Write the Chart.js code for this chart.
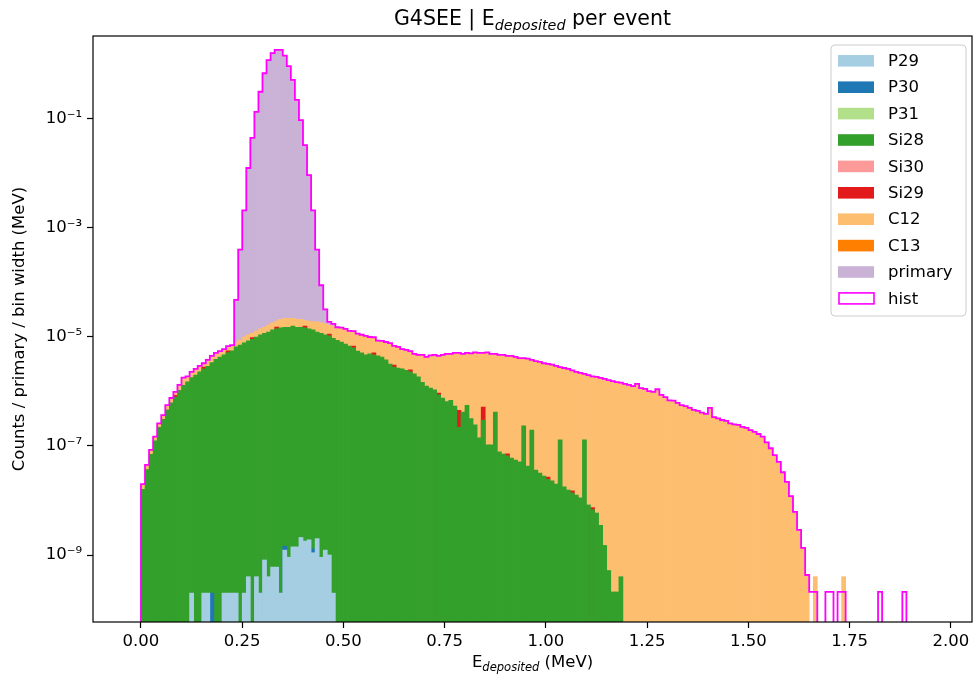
<!DOCTYPE html>
<html lang="en">
<head>
<meta charset="UTF-8" />
<title>G4SEE | E deposited per event</title>
<script src="https://cdn.jsdelivr.net/npm/chart.js"></script>
<style>
  html, body { margin: 0; padding: 0; background: #fff; }
  #wrap { width: 976px; height: 682px; }
</style>
</head>
<body>
<div id="wrap"><canvas id="chart" width="976" height="682"></canvas></div>
<script>
// histogram binning (MeV)
const binWidth = 0.01;
const xMin = -0.1185, xMax = 2.052;
const yMin = 5.9e-11, yMax = 3.33;

const xTickValues = [0, 0.25, 0.5, 0.75, 1.0, 1.25, 1.5, 1.75, 2.0];
const xTickLabels = ['0.00', '0.25', '0.50', '0.75', '1.00', '1.25', '1.50', '1.75', '2.00'];
const yTickValues = [1e-9, 1e-7, 1e-5, 1e-3, 1e-1];
const yTickLabels = ['10⁻⁹', '10⁻⁷', '10⁻⁵', '10⁻³', '10⁻¹'];

const seriesNames = ['P29', 'P30', 'P31', 'Si28', 'Si30', 'Si29', 'C12', 'C13', 'primary', 'hist'];
const seriesColors = ['#a6cee3', '#1f78b4', '#b2df8a', '#33a02c', '#fb9a99', '#e31a1c', '#fdbf6f', '#ff7f00', '#cab2d6', '#ff00ff'];

// total per bin (the magenta "hist" outline), bins 0.00 .. 1.90
const histTotal = [
  2.0e-8, 4.5e-8, 8.5e-8, 1.48e-7, 2.6e-7, 3.7e-7, 5.6e-7, 7.6e-7, 9.8e-7, 1.32e-6,
  1.8e-6, 1.9e-6, 2.3e-6, 2.6e-6, 2.95e-6, 3.3e-6, 3.8e-6, 4.5e-6, 5.1e-6, 5.5e-6,
  6.0e-6, 6.8e-6, 7.1e-6, 4.8e-5, 4.0e-4, 2.1e-3, 1.26e-2, 4.5e-2, 0.135, 0.316,
  0.69, 1.2, 1.62, 1.86, 1.86, 1.45, 0.93, 0.52, 0.224, 0.095,
  0.033, 9.3e-3, 2.1e-3, 4.0e-4, 8.9e-5, 3.2e-5, 1.9e-5, 1.74e-5, 1.51e-5, 1.48e-5,
  1.41e-5, 1.29e-5, 1.28e-5, 1.15e-5, 1.10e-5, 1.05e-5, 1.0e-5, 9.9e-6, 8.6e-6, 8.5e-6,
  8.1e-6, 7.7e-6, 6.9e-6, 6.6e-6, 6.0e-6, 5.8e-6, 5.5e-6, 4.9e-6, 4.7e-6, 4.7e-6,
  4.3e-6, 4.6e-6, 4.7e-6, 4.5e-6, 4.7e-6, 4.9e-6, 4.9e-6, 5.1e-6, 5.1e-6, 4.9e-6,
  5.1e-6, 5.0e-6, 5.2e-6, 5.1e-6, 5.1e-6, 5.2e-6, 4.9e-6, 4.9e-6, 4.7e-6, 4.7e-6,
  4.5e-6, 4.5e-6, 4.3e-6, 4.1e-6, 4.1e-6, 4.0e-6, 3.8e-6, 3.6e-6, 3.5e-6, 3.3e-6,
  3.2e-6, 3.1e-6, 2.95e-6, 2.8e-6, 2.7e-6, 2.6e-6, 2.45e-6, 2.3e-6, 2.2e-6, 2.1e-6,
  2.0e-6, 1.9e-6, 1.86e-6, 1.78e-6, 1.70e-6, 1.62e-6, 1.55e-6, 1.48e-6, 1.45e-6, 1.38e-6,
  1.32e-6, 1.26e-6, 1.38e-6, 1.15e-6, 1.12e-6, 1.02e-6, 9.8e-7, 1.10e-6, 8.7e-7, 7.9e-7,
  6.9e-7, 6.8e-7, 6.2e-7, 5.6e-7, 5.4e-7, 5.0e-7, 4.6e-7, 4.4e-7, 4.1e-7, 3.9e-7,
  5.0e-7, 3.4e-7, 3.2e-7, 3.0e-7, 2.9e-7, 2.6e-7, 2.5e-7, 2.45e-7, 2.25e-7, 2.15e-7,
  1.95e-7, 1.82e-7, 1.66e-7, 1.48e-7, 1.17e-7, 9.1e-8, 6.8e-8, 5.1e-8, 3.3e-8, 2.2e-8,
  1.2e-8, 6.2e-9, 2.9e-9, 1.35e-9, 4.3e-10, 2.1e-10, 2.1e-10, 0, 0, 2.1e-10,
  2.1e-10, 0, 2.1e-10, 2.1e-10, 0, 0, 0, 0, 0, 0,
  0, 0, 2.1e-10, 0, 0, 0, 0, 0, 2.1e-10, 0
];

// top of the green Si28 fill, bins 0 .. 118
const si28Level = [
  1.6e-8, 3.7e-8, 7.0e-8, 1.25e-7, 2.2e-7, 3.1e-7, 4.6e-7, 6.2e-7, 7.9e-7, 1.05e-6,
  1.3e-6, 1.5e-6, 1.8e-6, 2.0e-6, 2.3e-6, 2.6e-6, 2.9e-6, 3.4e-6, 3.9e-6, 4.3e-6,
  4.7e-6, 5.2e-6, 5.6e-6, 6.6e-6, 7.1e-6, 7.8e-6, 8.5e-6, 9.1e-6, 1.0e-5, 1.10e-5,
  1.17e-5, 1.23e-5, 1.35e-5, 1.41e-5, 1.48e-5, 1.51e-5, 1.51e-5, 1.58e-5, 1.51e-5, 1.51e-5,
  1.48e-5, 1.41e-5, 1.35e-5, 1.23e-5, 1.17e-5, 1.10e-5, 1.05e-5, 9.5e-6, 8.7e-6, 8.1e-6,
  7.4e-6, 6.8e-6, 6.3e-6, 5.5e-6, 5.1e-6, 4.7e-6, 4.9e-6, 4.7e-6, 4.5e-6, 4.3e-6,
  3.8e-6, 3.2e-6, 2.8e-6, 2.7e-6, 2.6e-6, 2.45e-6, 2.3e-6, 2.1e-6, 1.86e-6, 1.48e-6,
  1.26e-6, 1.15e-6, 1.07e-6, 8.7e-7, 7.6e-7, 6.5e-7, 6.9e-7, 5.4e-7, 2.2e-7, 4.2e-7,
  5.6e-7, 3.2e-7, 2.45e-7, 1.41e-7, 3.0e-7, 1.05e-7, 1.05e-7, 4.2e-7, 7.8e-8, 7.1e-8,
  6.6e-8, 6.0e-8, 5.5e-8, 5.1e-8, 2.35e-7, 4.3e-8, 1.95e-7, 3.6e-8, 3.2e-8, 2.8e-8,
  2.45e-8, 2.3e-8, 2.0e-8, 1.3e-7, 1.78e-8, 1.55e-8, 1.38e-8, 1.26e-8, 1.12e-8, 1.3e-7,
  8.3e-9, 6.8e-9, 5.9e-9, 3.5e-9, 1.5e-9, 5.2e-10, 2.1e-10, 2.1e-10, 4.0e-10
];

// top of the light orange C12 fill underneath the primary peak, bins 23 .. 47
const peakFirstBin = 23;
const c12UnderPeak = [
  7.8e-6, 8.7e-6, 1.0e-5, 1.10e-5, 1.17e-5, 1.29e-5, 1.41e-5, 1.51e-5, 1.66e-5, 1.82e-5,
  1.95e-5, 2.1e-5, 2.2e-5, 2.2e-5, 2.2e-5, 2.1e-5, 2.1e-5, 2.0e-5, 1.95e-5, 1.9e-5,
  1.9e-5, 1.82e-5, 1.74e-5, 1.66e-5, 1.58e-5
];
const lastFilledBin = 164;                    // C12 fill follows the outline up to here
const c12TailSpikes = [[166, 4.0e-10], [173, 4.0e-10]];

// light blue P29 at the bottom, bins 12 .. 47
const p29FirstBin = 12;
const p29Level = [
  2.0e-10, 0, 0, 2.0e-10, 2.0e-10, 0, 0, 0, 2.0e-10, 2.0e-10,
  2.0e-10, 2.0e-10, 0, 2.0e-10, 4.0e-10, 0, 4.0e-10, 2.0e-10, 8.1e-10, 4.0e-10,
  6.0e-10, 6.0e-10, 2.0e-10, 1.23e-9, 9.1e-10, 1.41e-9, 1.41e-9, 2.1e-9, 1.8e-9, 1.9e-9,
  1.1e-9, 2.0e-9, 9.1e-10, 1.23e-9, 1.0e-9, 2.0e-10
];
// sparse species, [bin, level]
const p30Level = [[17, 2.0e-10], [35, 1.45e-9], [42, 1.3e-9]];
const si29Level = [
  [8, 8.5e-7], [15, 2.8e-6], [21, 5.6e-6], [27, 9.8e-6], [33, 1.52e-5], [40, 1.58e-5],
  [46, 1.13e-5], [52, 6.8e-6], [57, 5.1e-6], [62, 3.05e-6], [66, 2.5e-6], [73, 9.4e-7],
  [78, 4.5e-7], [84, 5.2e-7], [90, 7.2e-8], [100, 2.7e-8], [106, 1.5e-8], [111, 7.4e-9]
];

const FONT = '"DejaVu Sans", sans-serif';
Chart.defaults.font.family = FONT;
Chart.defaults.color = '#000';

function center(i) { return (i + 0.5) * binWidth; }
function barsFrom(values, firstBin) {
  return values.map((v, k) => ({ x: center(firstBin + k), y: v })).filter(p => p.y > 0);
}
function barsFromPairs(pairs) {
  return pairs.map(([i, v]) => ({ x: center(i), y: v }));
}

const c12Points = histTotal.slice(0, lastFilledBin + 1).map((v, i) => {
  const k = i - peakFirstBin;
  return { x: center(i), y: (k >= 0 && k < c12UnderPeak.length) ? c12UnderPeak[k] : v };
}).concat(barsFromPairs(c12TailSpikes));
const primaryPoints = barsFrom(histTotal.slice(peakFirstBin, peakFirstBin + c12UnderPeak.length), peakFirstBin);

// step outline: points on bin left edges, empty bins pushed below the axis floor
const floorValue = yMin / 10;
const histPoints = [{ x: 0, y: floorValue }];
histTotal.forEach((v, i) => histPoints.push({ x: i * binWidth, y: v > 0 ? v : floorValue }));
histPoints.push({ x: histTotal.length * binWidth, y: floorValue });

const seriesData = [
  barsFrom(p29Level, p29FirstBin),
  barsFromPairs(p30Level),
  [],
  barsFrom(si28Level, 0),
  [],
  barsFromPairs(si29Level),
  c12Points,
  [],
  primaryPoints
];

const datasets = seriesData.map((d, i) => ({
  type: 'bar',
  label: seriesNames[i],
  data: d,
  backgroundColor: seriesColors[i],
  borderWidth: 0,
  grouped: false,
  barPercentage: 1,
  categoryPercentage: 1
}));
datasets.push({
  type: 'line',
  label: seriesNames[9],
  data: histPoints,
  borderColor: seriesColors[9],
  backgroundColor: '#ffffff',
  borderWidth: 1.8,
  pointRadius: 0,
  stepped: true,
  fill: false,
  order: -1
});

function drawSubscripted(ctx, parts, cx, baseline, size) {
  const main = `${size}px ${FONT}`;
  const sub = `italic ${size * 0.7}px ${FONT}`;
  ctx.font = main; const w0 = ctx.measureText(parts[0]).width; const w2 = ctx.measureText(parts[2]).width;
  ctx.font = sub; const w1 = ctx.measureText(parts[1]).width;
  let x = cx - (w0 + w1 + w2) / 2;
  ctx.fillStyle = '#000';
  ctx.textBaseline = 'alphabetic';
  ctx.textAlign = 'left';
  ctx.font = main; ctx.fillText(parts[0], x, baseline); x += w0;
  ctx.font = sub; ctx.fillText(parts[1], x, baseline + size * 0.22); x += w1;
  ctx.font = main; ctx.fillText(parts[2], x, baseline);
}

function drawLegend(chart) {
  const { ctx, chartArea: a } = chart;
  const ds = chart.data.datasets;
  const fs = 16.5, rowH = 26.4;
  const right = a.right - 6, left = 831, top = a.top + 9;
  const bottom = top + 15.8 + rowH * (ds.length - 1) + 17.6;
  ctx.save();
  ctx.beginPath();
  ctx.roundRect(left, top, right - left, bottom - top, 4);
  ctx.fillStyle = 'rgba(255,255,255,0.8)';
  ctx.fill();
  ctx.strokeStyle = '#cccccc';
  ctx.lineWidth = 1;
  ctx.stroke();
  ctx.font = `${fs}px ${FONT}`;
  ctx.textBaseline = 'middle';
  ctx.textAlign = 'left';
  ds.forEach((d, i) => {
    const cy = top + 15.8 + i * rowH;
    if (d.type === 'line') {
      ctx.fillStyle = '#fff';
      ctx.fillRect(left + 8, cy - 5.5, 35, 11);
      ctx.strokeStyle = d.borderColor;
      ctx.lineWidth = 1.6;
      ctx.strokeRect(left + 8, cy - 5.5, 35, 11);
    } else {
      ctx.fillStyle = d.backgroundColor;
      ctx.fillRect(left + 7, cy - 5.8, 36, 11.6);
    }
    ctx.fillStyle = '#000';
    ctx.fillText(d.label, left + 57, cy + 1);
  });
  ctx.restore();
}

const decorations = {
  id: 'decorations',
  afterDatasetsDraw(chart) {
    const { ctx, chartArea: a } = chart;
    ctx.save();
    ctx.strokeStyle = '#000';
    ctx.lineWidth = 1.2;
    ctx.strokeRect(a.left, a.top, a.right - a.left, a.bottom - a.top);
    ctx.restore();
  },
  afterDraw(chart) {
    const { ctx, chartArea: a } = chart;
    const cx = (a.left + a.right) / 2;
    ctx.save();
    drawSubscripted(ctx, ['G4SEE | E', 'deposited', ' per event'], cx, 25, 20.5);
    drawSubscripted(ctx, ['E', 'deposited', ' (MeV)'], cx, 667, 16.5);
    ctx.restore();
    drawLegend(chart);
  }
};

const tickGrid = { drawOnChartArea: false, drawTicks: true, tickLength: 6, tickColor: '#000', tickWidth: 1.2 };

new Chart(document.getElementById('chart'), {
  type: 'bar',
  data: { datasets },
  options: {
    responsive: false,
    animation: false,
    devicePixelRatio: 1,
    layout: { padding: { left: 0, right: 4, top: 36, bottom: 0 } },
    plugins: { legend: { display: false }, tooltip: { enabled: false }, title: { display: false } },
    scales: {
      x: {
        type: 'linear',
        offset: false,
        min: xMin, max: xMax, bounds: 'data',
        grid: Object.assign({ offset: false }, tickGrid),
        border: { display: false },
        ticks: {
          autoSkip: false, maxRotation: 0, padding: 4,
          font: { size: 16.5 }, color: '#000',
          callback: (v) => xTickLabels[xTickValues.indexOf(v)]
        },
        afterBuildTicks: (s) => { s.ticks = xTickValues.map(v => ({ value: v })); },
        afterFit: (s) => { s.height = 60; }
      },
      y: {
        type: 'logarithmic',
        min: yMin, max: yMax, bounds: 'data',
        grid: tickGrid,
        border: { display: false },
        ticks: {
          autoSkip: false, padding: 5,
          font: { size: 16.5 }, color: '#000',
          callback: (v) => yTickLabels[yTickValues.indexOf(v)]
        },
        title: {
          display: true,
          text: 'Counts / primary / bin width (MeV)',
          font: { size: 16.5 }, color: '#000',
          padding: { top: 10, bottom: 0 }
        },
        afterBuildTicks: (s) => { s.ticks = yTickValues.map(v => ({ value: v })); },
        afterFit: (s) => { s.width = 93; }
      }
    }
  },
  plugins: [decorations]
});
</script>
</body>
</html>
